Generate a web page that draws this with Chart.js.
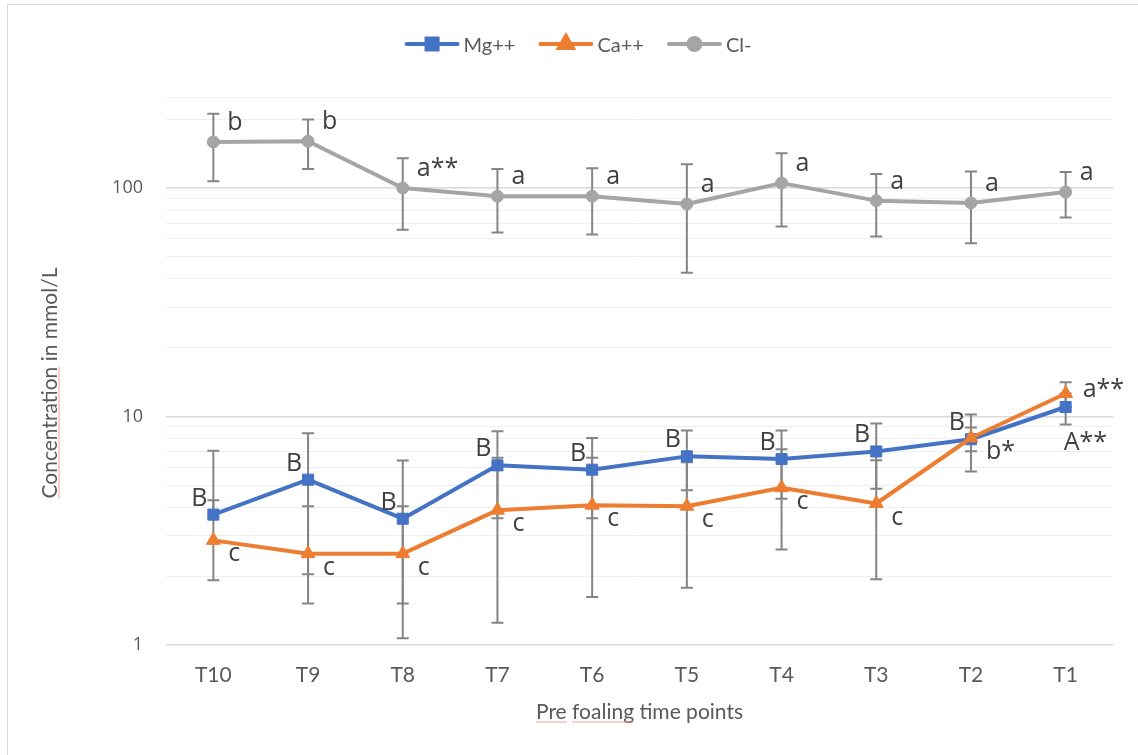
<!DOCTYPE html>
<html>
<head>
<meta charset="utf-8">
<script src="https://cdn.jsdelivr.net/npm/chart.js@4.4.1/dist/chart.umd.min.js"></script>
<style>
  html, body { margin: 0; padding: 0; background: #ffffff; }
  #wrap { width: 1138px; height: 755px; position: relative; }
</style>
</head>
<body>
<div id="wrap"><canvas id="chart" width="1138" height="755"></canvas></div>
<script>
// Pre-foaling time points
const timePoints = ['T10', 'T9', 'T8', 'T7', 'T6', 'T5', 'T4', 'T3', 'T2', 'T1'];

// Mg++ (mmol/L): mean, error bar ends, significance letters
const mgMean    = [3.72, 5.29, 3.57, 6.11, 5.85, 6.69, 6.51, 7.03, 7.95, 11.0];
const mgLow     = [null, 2.04, 1.07, 3.59, 3.59, 4.75, 4.37, 4.83, 5.75, 9.23];
const mgHigh    = [7.08, 8.45, 6.41, 8.62, 8.04, 8.69, 8.69, 9.32, 10.2, 12.6];
const mgLetters = ['B', 'B', 'B', 'B', 'B', 'B', 'B', 'B', 'B', 'A**'];

// Ca++ (mmol/L)
const caMean    = [2.87, 2.51, 2.51, 3.89, 4.09, 4.05, 4.88, 4.16, 8.05, 12.6];
const caLow     = [1.92, 1.52, 1.52, 1.25, 1.62, 1.78, 2.62, 1.94, 7.05, 11.0];
const caHigh    = [4.30, 4.05, 4.05, 6.60, 6.60, 6.30, 7.18, 6.43, 8.95, 14.1];
const caLetters = ['c', 'c', 'c', 'c', 'c', 'c', 'c', 'c', 'b*', 'a**'];

// Cl- (mmol/L)
const clMean    = [159, 160, 100, 92, 92, 85, 105, 88, 86, 96];
const clLow     = [107, 121, 65.6, 63.8, 62.5, 42.5, 67.8, 61.3, 57.3, 74.2];
const clHigh    = [211, 199.5, 135, 121, 122, 127, 142, 115, 118, 117.4];
const clLetters = ['b', 'b', 'a**', 'a', 'a', 'a', 'a', 'a', 'a', 'a'];

// Logarithmic axis: gridline values and the ones that carry a label
const yTickValues  = [1, 2, 3, 4, 5, 6, 7, 8, 9, 10, 20, 30, 40, 50, 60, 70, 80, 90, 100, 200, 250];
const yLabelValues = [1, 10, 100];

const TEXT_GREY = '#595959';
const LABEL_DARK = '#404040';

// Frame around the whole chart
const framePlugin = {
  id: 'frame',
  beforeDraw(chart) {
    const ctx = chart.ctx;
    ctx.save();
    ctx.fillStyle = '#ffffff';
    ctx.fillRect(0, 0, chart.width, chart.height);
    ctx.strokeStyle = '#d9d9d9';
    ctx.lineWidth = 1;
    ctx.beginPath();
    ctx.moveTo(7.5, chart.height);
    ctx.lineTo(7.5, 4.5);
    ctx.lineTo(chart.width, 4.5);
    ctx.stroke();
    ctx.restore();
  }
};

// Vertical error bars with caps, drawn beneath the series lines
const errorBarPlugin = {
  id: 'errorBars',
  beforeDatasetsDraw(chart) {
    const { ctx, chartArea, scales } = chart;
    const yScale = scales.y;
    ctx.save();
    ctx.beginPath();
    ctx.rect(chartArea.left, chartArea.top, chartArea.right - chartArea.left, chartArea.bottom - chartArea.top + 1);
    ctx.clip();
    ctx.strokeStyle = '#858585';
    ctx.lineWidth = 2;
    chart.data.datasets.forEach((ds, di) => {
      const meta = chart.getDatasetMeta(di);
      meta.data.forEach((pt, i) => {
        const x = pt.x;
        [ds.errHigh[i], ds.errLow[i]].forEach(v => {
          if (v == null) return;
          const yv = yScale.getPixelForValue(v);
          ctx.beginPath();
          ctx.moveTo(x, pt.y);
          ctx.lineTo(x, yv);
          ctx.moveTo(x - 6, yv);
          ctx.lineTo(x + 6, yv);
          ctx.stroke();
        });
      });
    });
    ctx.restore();
  }
};

// Significance letters next to each point
const letterPlugin = {
  id: 'letters',
  afterDatasetsDraw(chart) {
    const ctx = chart.ctx;
    ctx.save();
    ctx.font = '25px "Open Sans"';
    ctx.fillStyle = LABEL_DARK;
    ctx.textBaseline = 'alphabetic';
    chart.data.datasets.forEach((ds, di) => {
      const meta = chart.getDatasetMeta(di);
      const last = meta.data.length - 1;
      meta.data.forEach((pt, i) => {
        const p = (i === last && ds.lastPlace) ? ds.lastPlace : ds.place;
        ctx.textAlign = p.align;
        ctx.fillText(ds.letters[i], pt.x + p.dx, pt.y + p.dy);
      });
    });
    ctx.restore();
  }
};

// Axis titles
const titlePlugin = {
  id: 'axisTitles',
  afterDraw(chart) {
    const ctx = chart.ctx;
    ctx.save();
    ctx.font = '21px Lato';
    ctx.fillStyle = TEXT_GREY;
    ctx.textBaseline = 'alphabetic';

    // horizontal title
    const xTitle = 'Pre foaling time points';
    const cx = (chart.chartArea.left + chart.chartArea.right) / 2;
    ctx.textAlign = 'center';
    ctx.fillText(xTitle, cx, 719);
    const xw = ctx.measureText(xTitle).width;
    const x0 = cx - xw / 2;
    ctx.strokeStyle = 'rgba(236, 130, 130, 0.75)';
    ctx.lineWidth = 1;
    ctx.beginPath();
    ctx.moveTo(x0, 722); ctx.lineTo(x0 + ctx.measureText('Pre').width, 722);
    const fStart = x0 + ctx.measureText('Pre ').width;
    ctx.moveTo(fStart, 722); ctx.lineTo(fStart + ctx.measureText('foaling').width, 722);
    ctx.stroke();

    // vertical title
    const yTitle = 'Concentration in mmol/L';
    ctx.translate(57, 383);
    ctx.rotate(-Math.PI / 2);
    ctx.textAlign = 'center';
    ctx.fillText(yTitle, 0, 0);
    const yw = ctx.measureText(yTitle).width;
    ctx.beginPath();
    ctx.moveTo(-yw / 2, 2); ctx.lineTo(-yw / 2 + ctx.measureText('Concentration').width, 2);
    ctx.stroke();
    ctx.restore();
  }
};

// Legend: line sample with marker, then series name
const legendPlugin = {
  id: 'lineLegend',
  afterDraw(chart) {
    const ctx = chart.ctx;
    ctx.save();
    ctx.font = '20px Lato';
    const sampleW = 55, textGap = 4, itemGap = 23, lineY = 44;
    const items = chart.data.datasets.map(ds => ({ ds, tw: ctx.measureText(ds.label).width }));
    const total = items.reduce((s, it) => s + sampleW + textGap + it.tw, 0) + itemGap * (items.length - 1);
    let x = 578 - total / 2;
    items.forEach(it => {
      const ds = it.ds;
      ctx.strokeStyle = ds.borderColor;
      ctx.lineWidth = 4;
      ctx.lineCap = 'round';
      ctx.beginPath();
      ctx.moveTo(x + 2, lineY);
      ctx.lineTo(x + sampleW - 2, lineY);
      ctx.stroke();
      ctx.fillStyle = ds.pointBackgroundColor;
      ctx.strokeStyle = ds.pointBorderColor;
      Chart.helpers.drawPoint(ctx, {
        pointStyle: ds.pointStyle, radius: ds.pointRadius, borderWidth: 1, rotation: 0
      }, x + sampleW / 2, lineY);
      ctx.fillStyle = TEXT_GREY;
      ctx.textAlign = 'left';
      ctx.textBaseline = 'alphabetic';
      ctx.fillText(ds.label, x + sampleW + textGap, 51.5);
      x += sampleW + textGap + it.tw + itemGap;
    });
    ctx.restore();
  }
};

function series(label, color, values, low, high, letters, style, radius, order, place, lastPlace) {
  return {
    label, data: values, errLow: low, errHigh: high, letters,
    borderColor: color, backgroundColor: color,
    pointBackgroundColor: color, pointBorderColor: color,
    pointStyle: style, pointRadius: radius, pointBorderWidth: 1,
    borderWidth: 4, borderJoinStyle: 'round', borderCapStyle: 'round',
    tension: 0, fill: false, order, place, lastPlace
  };
}

new Chart(document.getElementById('chart'), {
  type: 'line',
  data: {
    labels: timePoints,
    datasets: [
      series('Mg++', '#4472C4', mgMean, mgLow, mgHigh, mgLetters, 'rect', 7.8, 3,
        { align: 'right', dx: -6, dy: -9 }, { align: 'left', dx: -2, dy: 43 }),
      series('Ca++', '#ED7D31', caMean, caLow, caHigh, caLetters, 'triangle', 8, 2,
        { align: 'left', dx: 15, dy: 21 }, { align: 'left', dx: 17, dy: 3 }),
      series('Cl-', '#A5A5A5', clMean, clLow, clHigh, clLetters, 'circle', 6, 1,
        { align: 'left', dx: 14, dy: -12 }, null)
    ]
  },
  options: {
    responsive: false,
    animation: false,
    devicePixelRatio: 1,
    layout: { padding: { left: 0, right: 25, top: 97, bottom: 0 } },
    plugins: { legend: { display: false }, tooltip: { enabled: false } },
    scales: {
      x: {
        type: 'category',
        offset: true,
        grid: { display: false, drawTicks: false },
        border: { display: false },
        ticks: { padding: 18, color: TEXT_GREY, font: { family: 'Lato', size: 21 }, maxRotation: 0 },
        afterFit(scale) { scale.height = 110; }
      },
      y: {
        type: 'logarithmic',
        min: 1,
        max: 250,
        afterBuildTicks(scale) { scale.ticks = yTickValues.map(v => ({ value: v })); },
        ticks: {
          autoSkip: false,
          padding: 23,
          color: TEXT_GREY,
          font: { family: 'Open Sans', size: 18 },
          callback: (v) => yLabelValues.includes(v) ? String(v) : ''
        },
        grid: {
          drawTicks: false,
          color: c => (c.tick && yLabelValues.includes(c.tick.value)) ? '#d9d9d9' : '#efefef',
          lineWidth: c => (c.tick && yLabelValues.includes(c.tick.value)) ? 1.5 : 1
        },
        border: { display: false },
        afterFit(scale) { scale.width = 166; }
      }
    }
  },
  plugins: [framePlugin, errorBarPlugin, letterPlugin, titlePlugin, legendPlugin]
});
</script>
</body>
</html>
